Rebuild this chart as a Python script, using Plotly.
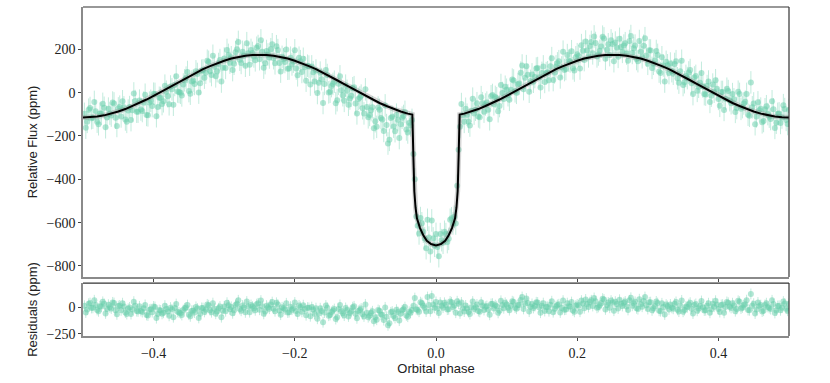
import plotly.graph_objects as go
from plotly.subplots import make_subplots

# phase-folded light curve, first set of binned points
phase = [
    -0.498, -0.494, -0.490, -0.486, -0.482, -0.478, -0.474, -0.470, -0.466, -0.462,
    -0.458, -0.454, -0.450, -0.446, -0.442, -0.438, -0.434, -0.430, -0.426, -0.422,
    -0.418, -0.414, -0.410, -0.406, -0.402, -0.398, -0.394, -0.390, -0.386, -0.382,
    -0.378, -0.374, -0.370, -0.366, -0.362, -0.358, -0.354, -0.350, -0.346, -0.342,
    -0.338, -0.334, -0.330, -0.326, -0.322, -0.318, -0.314, -0.310, -0.306, -0.302,
    -0.298, -0.294, -0.290, -0.286, -0.282, -0.278, -0.274, -0.270, -0.266, -0.262,
    -0.258, -0.254, -0.250, -0.246, -0.242, -0.238, -0.234, -0.230, -0.226, -0.222,
    -0.218, -0.214, -0.210, -0.206, -0.202, -0.198, -0.194, -0.190, -0.186, -0.182,
    -0.178, -0.174, -0.170, -0.166, -0.162, -0.158, -0.154, -0.150, -0.146, -0.142,
    -0.138, -0.134, -0.130, -0.126, -0.122, -0.118, -0.114, -0.110, -0.106, -0.102,
    -0.098, -0.094, -0.090, -0.086, -0.082, -0.078, -0.074, -0.070, -0.066, -0.062,
    -0.058, -0.054, -0.050, -0.046, -0.042, -0.038, -0.034, -0.030, -0.026, -0.022,
    -0.018, -0.014, -0.010, -0.006, -0.002, 0.002, 0.006, 0.010, 0.014, 0.018,
    0.022, 0.026, 0.030, 0.034, 0.038, 0.042, 0.046, 0.050, 0.054, 0.058,
    0.062, 0.066, 0.070, 0.074, 0.078, 0.082, 0.086, 0.090, 0.094, 0.098,
    0.102, 0.106, 0.110, 0.114, 0.118, 0.122, 0.126, 0.130, 0.134, 0.138,
    0.142, 0.146, 0.150, 0.154, 0.158, 0.162, 0.166, 0.170, 0.174, 0.178,
    0.182, 0.186, 0.190, 0.194, 0.198, 0.202, 0.206, 0.210, 0.214, 0.218,
    0.222, 0.226, 0.230, 0.234, 0.238, 0.242, 0.246, 0.250, 0.254, 0.258,
    0.262, 0.266, 0.270, 0.274, 0.278, 0.282, 0.286, 0.290, 0.294, 0.298,
    0.302, 0.306, 0.310, 0.314, 0.318, 0.322, 0.326, 0.330, 0.334, 0.338,
    0.342, 0.346, 0.350, 0.354, 0.358, 0.362, 0.366, 0.370, 0.374, 0.378,
    0.382, 0.386, 0.390, 0.394, 0.398, 0.402, 0.406, 0.410, 0.414, 0.418,
    0.422, 0.426, 0.430, 0.434, 0.438, 0.442, 0.446, 0.450, 0.454, 0.458,
    0.462, 0.466, 0.470, 0.474, 0.478, 0.482, 0.486, 0.490, 0.494, 0.498,
]

flux = [
    -98, -135, -71, -116, -86, -146, -97, -70, -115, -97,
    -46, -116, -73, -110, -68, -135, -67, -82, -39, -88,
    -78, -46, -103, -46, -62, -6, -67, -25, -40, 4,
    -54, 15, 35, 5, -1, 37, 69, 7, 51, 40,
    86, 43, 103, 92, 142, 81, 119, 99, 150, 115,
    114, 174, 163, 133, 200, 152, 188, 124, 182, 197,
    167, 207, 154, 188, 136, 176, 200, 159, 214, 137,
    165, 141, 110, 161, 143, 111, 161, 95, 117, 124,
    37, 94, 102, 46, 62, 40, 81, 4, 40, -49,
    41, 11, -38, 8, -27, 20, -50, -29, -14, -96,
    -67, -103, -68, -132, -69, -117, -177, -150, -218, -112,
    -178, -125, -146, -108, -170, -139, -126, -400, -615, -579,
    -642, -718, -669, -590, -707, -713, -653, -693, -653, -675,
    -580, -573, -430, -158, -105, -75, -134, -84, -97, -49,
    -114, -49, -55, -79, -17, -54, -26, -62, -2, 27,
    -12, 13, 56, -1, 42, 125, 68, 82, 54, 50,
    111, 71, 91, 49, 94, 122, 58, 121, 145, 116,
    104, 173, 144, 112, 163, 169, 219, 150, 194, 215,
    181, 229, 176, 213, 250, 198, 173, 224, 231, 165,
    210, 217, 180, 238, 183, 217, 145, 188, 216, 171,
    195, 114, 148, 174, 90, 125, 142, 90, 99, 132,
    66, 98, 35, 77, 93, 43, 70, 8, 46, 28,
    -9, 51, -14, 4, 18, -61, 3, -28, 7, -49,
    -31, -71, -6, -67, -42, -102, 47, -50, -110, -82,
    -137, -77, -99, -122, -77, -139, -96, -115, -76, -145,
]

resid = [
    17, -20, 43, -3, 25, -36, 10, 35, -13, 2,
    49, -25, 14, -27, 10, -62, 1, -20, 18, -37,
    -33, -8, -71, -21, -44, 5, -63, -28, -50, -13,
    -79, -17, -4, -41, -55, -24, 1, -68, -31, -48,
    -9, -59, -5, -22, 22, -44, -12, -37, 9, -30,
    -35, 21, 6, -27, 37, -14, 19, -46, 10, 24,
    -7, 32, -21, 13, -38, 3, 28, -11, 45, -29,
    2, -19, -47, 8, -6, -34, 20, -41, -14, -1,
    -83, -20, -6, -56, -33, -48, -1, -71, -28, -110,
    -13, -35, -77, -24, -52, 3, -60, -32, -10, -85,
    -49, -78, -36, -94, -24, -66, -120, -88, -150, -39,
    -100, -42, -59, -17, -75, -40, -24, 90, -23, 51,
    16, -38, 23, 110, -3, -9, 47, -1, 27, -17,
    50, 19, 60, -56, -6, 20, -43, 3, -14, 29,
    -41, 19, 7, -22, 34, -9, 12, -30, 23, 45,
    -1, 17, 53, -11, 25, 100, 36, 43, 8, -4,
    50, 3, 16, -33, 6, 27, -44, 13, 31, -4,
    -21, 42, 8, -29, 18, 20, 66, -7, 34, 52,
    15, 60, 6, 41, 77, 24, -2, 49, 56, -9,
    37, 45, 10, 69, 17, 54, -15, 31, 63, 22,
    50, -27, 12, 43, -35, 5, 28, -18, -3, 37,
    -22, 16, -40, 9, 32, -11, 24, -31, 14, 3,
    -26, 41, -17, 8, 29, -43, 28, 4, 45, -4,
    20, -14, 56, 1, 31, -24, 130, 37, -19, 13,
    -38, 25, 6, -15, 33, -28, 17, -1, 39, -30,
]

# second, interleaved set of points
phase_b = [
    -0.496, -0.492, -0.488, -0.484, -0.480, -0.476, -0.472, -0.468, -0.464, -0.460,
    -0.456, -0.452, -0.448, -0.444, -0.440, -0.436, -0.432, -0.428, -0.424, -0.420,
    -0.416, -0.412, -0.408, -0.404, -0.400, -0.396, -0.392, -0.388, -0.384, -0.380,
    -0.376, -0.372, -0.368, -0.364, -0.360, -0.356, -0.352, -0.348, -0.344, -0.340,
    -0.336, -0.332, -0.328, -0.324, -0.320, -0.316, -0.312, -0.308, -0.304, -0.300,
    -0.296, -0.292, -0.288, -0.284, -0.280, -0.276, -0.272, -0.268, -0.264, -0.260,
    -0.256, -0.252, -0.248, -0.244, -0.240, -0.236, -0.232, -0.228, -0.224, -0.220,
    -0.216, -0.212, -0.208, -0.204, -0.200, -0.196, -0.192, -0.188, -0.184, -0.180,
    -0.176, -0.172, -0.168, -0.164, -0.160, -0.156, -0.152, -0.148, -0.144, -0.140,
    -0.136, -0.132, -0.128, -0.124, -0.120, -0.116, -0.112, -0.108, -0.104, -0.100,
    -0.096, -0.092, -0.088, -0.084, -0.080, -0.076, -0.072, -0.068, -0.064, -0.060,
    -0.056, -0.052, -0.048, -0.044, -0.040, -0.036, -0.032, -0.028, -0.024, -0.020,
    -0.016, -0.012, -0.008, -0.004, 0.000, 0.004, 0.008, 0.012, 0.016, 0.020,
    0.024, 0.028, 0.032, 0.036, 0.040, 0.044, 0.048, 0.052, 0.056, 0.060,
    0.064, 0.068, 0.072, 0.076, 0.080, 0.084, 0.088, 0.092, 0.096, 0.100,
    0.104, 0.108, 0.112, 0.116, 0.120, 0.124, 0.128, 0.132, 0.136, 0.140,
    0.144, 0.148, 0.152, 0.156, 0.160, 0.164, 0.168, 0.172, 0.176, 0.180,
    0.184, 0.188, 0.192, 0.196, 0.200, 0.204, 0.208, 0.212, 0.216, 0.220,
    0.224, 0.228, 0.232, 0.236, 0.240, 0.244, 0.248, 0.252, 0.256, 0.260,
    0.264, 0.268, 0.272, 0.276, 0.280, 0.284, 0.288, 0.292, 0.296, 0.300,
    0.304, 0.308, 0.312, 0.316, 0.320, 0.324, 0.328, 0.332, 0.336, 0.340,
    0.344, 0.348, 0.352, 0.356, 0.360, 0.364, 0.368, 0.372, 0.376, 0.380,
    0.384, 0.388, 0.392, 0.396, 0.400, 0.404, 0.408, 0.412, 0.416, 0.420,
    0.424, 0.428, 0.432, 0.436, 0.440, 0.444, 0.448, 0.452, 0.456, 0.460,
    0.464, 0.468, 0.472, 0.476, 0.480, 0.484, 0.488, 0.492, 0.496, 0.500,
]

flux_b = [
    -162, -79, -118, -43, -134, -97, -52, -160, -74, -106,
    -50, -154, -65, -40, -124, -83, -127, -4, -88, -37,
    -85, -10, -105, -38, -5, -109, -24, -53, 32, -17,
    28, -56, 76, 3, -13, 57, 95, -5, 55, 98,
    0, 101, 69, 147, 98, 170, 75, 132, 51, 157,
    197, 138, 104, 186, 234, 137, 171, 228, 129, 183,
    149, 215, 241, 115, 192, 162, 223, 135, 196, 97,
    154, 199, 111, 130, 195, 80, 145, 156, 55, 120,
    121, 51, -2, 92, -48, 104, 1, 30, 50, -35,
    75, -12, 32, -56, -15, 25, -96, -23, -72, 15,
    -114, -81, -165, -158, -79, -124, -59, -235, -117, -157,
    -102, -210, -116, -89, -184, -151, -283, -572, -650, -603,
    -673, -587, -733, -673, -652, -755, -681, -642, -690, -587,
    -604, -604, -264, -53, -135, -102, -152, -28, -79, -110,
    -21, -88, -46, -123, -11, -20, -86, 35, -29, 13,
    -33, 60, 6, 38, 92, 16, 122, 4, 84, 72,
    113, 23, 121, 90, 57, 159, 93, 135, 70, 189,
    109, 147, 191, 102, 177, 111, 193, 236, 167, 234,
    259, 167, 193, 258, 156, 223, 241, 145, 208, 248,
    188, 228, 147, 261, 205, 155, 238, 163, 251, 133,
    194, 133, 192, 97, 163, 51, 126, 134, 87, 145,
    46, 147, 48, 67, 104, -7, 77, 27, 91, -7,
    30, -43, 37, 57, -29, 3, -80, 18, -35, -7,
    -89, 4, -75, -50, -6, -107, -68, -146, -45, -74,
    -131, -63, -111, -40, -163, -98, -140, -58, -126, -80,
]

resid_b = [
    -47, 36, -4, 69, -23, 12, 54, -56, 27, -9,
    43, -65, 20, 41, -48, -12, -62, 56, -34, 11,
    -43, 25, -76, -16, 10, -101, -24, -60, 18, -38,
    -1, -92, 33, -47, -71, -8, 23, -84, -30, 6,
    -99, -4, -42, 30, -25, 42, -59, -7, -92, 10,
    46, -17, -55, 24, 69, -31, 1, 57, -44, 9,
    -26, 40, 66, -60, 18, -11, 52, -35, 28, -68,
    -8, 40, -44, -21, 48, -63, 6, 22, -73, -3,
    4, -60, -107, -7, -140, 19, -78, -42, -15, -93,
    25, -55, -4, -85, -36, 11, -103, -23, -64, 30,
    -92, -52, -130, -116, -31, -70, 1, -170, -46, -81,
    -21, -125, -27, 4, -87, -50, 17, -17, -40, 42,
    -3, 100, -36, 30, 53, -52, 16, 45, -20, 58,
    6, -49, 36, 48, -38, -9, -63, 57, 2, -34,
    50, -23, 14, -69, 37, 22, -51, 64, -7, 28,
    -25, 60, -1, 24, 71, -13, 86, -39, 34, 14,
    48, -49, 42, 5, -35, 60, -12, 24, -47, 66,
    -19, 13, 52, -41, 30, -40, 38, 77, 5, 69,
    91, -3, 22, 85, -18, 48, 66, -30, 33, 74,
    15, 57, -23, 93, 40, -7, 79, 8, 100, -14,
    51, -6, 58, -31, 40, -66, 15, 29, -12, 53,
    -39, 68, -24, 2, 46, -57, 34, -9, 62, -28,
    16, -50, 37, 65, -14, 25, -51, 53, 7, 41,
    -35, 64, -10, 21, 70, -26, 17, -57, 48, 23,
    -30, 41, -5, 69, -52, 14, -26, 57, -11, 35,
]
flux_err = 52

# best-fit model curve
model_phase = [
    -0.50, -0.49, -0.48, -0.47, -0.46, -0.45, -0.44, -0.43, -0.42, -0.41,
    -0.40, -0.39, -0.38, -0.37, -0.36, -0.35, -0.34, -0.33, -0.32, -0.31,
    -0.30, -0.29, -0.28, -0.27, -0.26, -0.25, -0.24, -0.23, -0.22, -0.21,
    -0.20, -0.19, -0.18, -0.17, -0.16, -0.15, -0.14, -0.13, -0.12, -0.11,
    -0.10, -0.09, -0.08, -0.07, -0.06, -0.05, -0.04,
    -0.0335, -0.032, -0.0307, -0.029, -0.027, -0.0226, -0.018, -0.013, -0.007,
    0.0,
    0.007, 0.013, 0.018, 0.0226, 0.027, 0.029, 0.0307, 0.032, 0.0335,
    0.04, 0.05, 0.06, 0.07, 0.08, 0.09, 0.10, 0.11, 0.12, 0.13,
    0.14, 0.15, 0.16, 0.17, 0.18, 0.19, 0.20, 0.21, 0.22, 0.23,
    0.24, 0.25, 0.26, 0.27, 0.28, 0.29, 0.30, 0.31, 0.32, 0.33,
    0.34, 0.35, 0.36, 0.37, 0.38, 0.39, 0.40, 0.41, 0.42, 0.43,
    0.44, 0.45, 0.46, 0.47, 0.48, 0.49, 0.50,
]
model_flux = [
    -115, -114, -110, -105, -97, -87, -76, -62, -48, -32,
    -15, 3, 21, 39, 57, 75, 92, 108, 122, 136,
    147, 157, 165, 170, 174, 175, 174, 170, 165, 157,
    147, 136, 122, 108, 92, 75, 57, 39, 21, 3,
    -15, -32, -48, -62, -76, -87, -97,
    -101, -300, -455, -530, -580, -625, -658, -684, -699,
    -705,
    -699, -684, -658, -625, -580, -530, -455, -300, -101,
    -97, -87, -76, -62, -48, -32, -15, 3, 21, 39,
    57, 75, 92, 108, 122, 136, 147, 157, 165, 170,
    174, 175, 174, 170, 165, 157, 147, 136, 122, 108,
    92, 75, 57, 39, 21, 3, -15, -32, -48, -62,
    -76, -87, -97, -105, -110, -114, -115,
]

pt_color = "rgba(102,205,170,0.5)"
err_color = "rgba(102,205,170,0.4)"
serif = "Liberation Serif, DejaVu Serif, serif"
sans = "Liberation Sans, DejaVu Sans, sans-serif"

fig = make_subplots(rows=2, cols=1, shared_xaxes=True)

def add_points(x, y, row):
    fig.add_trace(go.Scatter(
        x=x, y=y, mode="markers",
        marker=dict(size=6, color=pt_color),
        error_y=dict(type="constant", value=flux_err, color=err_color, thickness=1, width=0),
        showlegend=False,
    ), row=row, col=1)

add_points(phase, flux, 1)
add_points(phase_b, flux_b, 1)
fig.add_trace(go.Scatter(
    x=model_phase, y=model_flux, mode="lines",
    line=dict(color="rgba(120,120,120,0.3)", width=5),
    showlegend=False, hoverinfo="skip",
), row=1, col=1)
fig.add_trace(go.Scatter(
    x=model_phase, y=model_flux, mode="lines",
    line=dict(color="black", width=2),
    showlegend=False,
), row=1, col=1)

fig.add_hline(y=0, line=dict(color="black", width=1.2, dash="dot"), layer="below", row=2, col=1)
add_points(phase, resid, 2)
add_points(phase_b, resid_b, 2)

axis_common = dict(
    showline=True, linecolor="#8a8a8a", linewidth=1.5, mirror=False,
    ticks="outside", ticklen=3, tickcolor="#444", showgrid=False, zeroline=False,
    automargin=False,
    tickfont=dict(family=serif, size=14, color="#222"),
)
fig.update_xaxes(range=[-0.5, 0.5], dtick=0.2, tick0=0, **axis_common)
fig.update_xaxes(showticklabels=False, row=1, col=1)
fig.update_xaxes(
    title=dict(text="Orbital phase", font=dict(family=sans, size=13, color="#222"), standoff=0),
    tickformat=".1f", row=2, col=1,
)
fig.update_yaxes(**axis_common)
fig.update_yaxes(
    range=[-851, 395], dtick=200, domain=[0.1793, 1.0],
    title=dict(text="Relative Flux (ppm)", font=dict(family=sans, size=13, color="#222"), standoff=6),
    row=1, col=1,
)
fig.update_yaxes(
    range=[-272, 234], dtick=250, domain=[0.0, 0.161],
    title=dict(text="Residuals (ppm)", font=dict(family=sans, size=13, color="#222"), standoff=6),
    row=2, col=1,
)

# darker top/right frame edges
for xr, yr in [("x domain", "y domain"), ("x2 domain", "y2 domain")]:
    fig.add_shape(type="line", xref=xr, yref=yr, x0=0, x1=1, y0=1, y1=1,
                  line=dict(color="#333", width=1.2))
    fig.add_shape(type="line", xref=xr, yref=yr, x0=1, x1=1, y0=0, y1=1,
                  line=dict(color="#333", width=1.2))

fig.update_layout(
    width=830, height=383,
    margin=dict(l=83, r=41, t=7, b=47),
    paper_bgcolor="white", plot_bgcolor="white",
    showlegend=False,
)

fig.write_html("out.html", config={"displayModeBar": False},
               post_script="document.body.style.margin='0px';")
